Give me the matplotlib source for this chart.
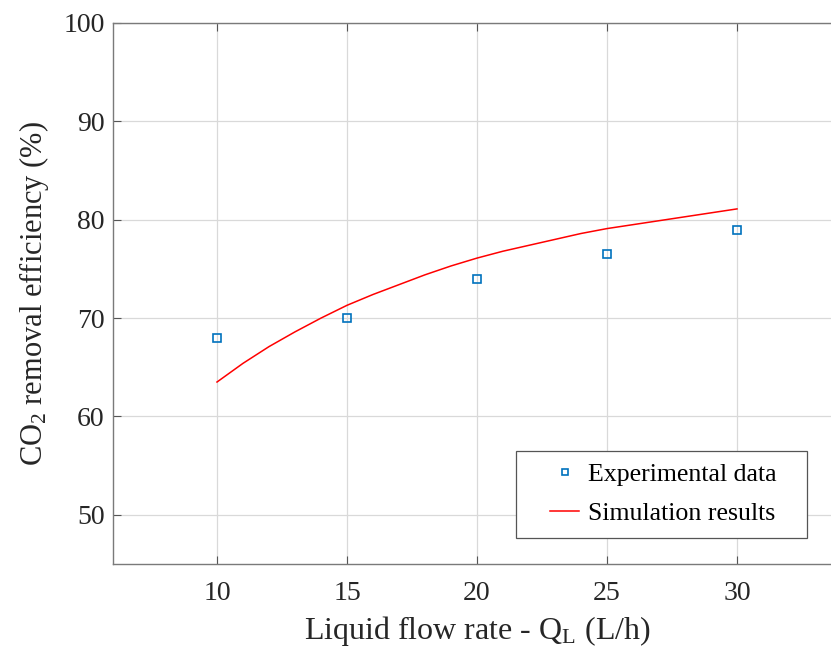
import numpy as np
import matplotlib.pyplot as plt
from matplotlib.legend_handler import HandlerLine2D

plt.rcParams['font.family'] = 'Liberation Serif'
plt.rcParams['mathtext.fontset'] = 'custom'
plt.rcParams['mathtext.rm'] = 'Liberation Serif'
plt.rcParams['mathtext.it'] = 'Liberation Serif'

# experimental points
expFlow = [10, 15, 20, 25, 30]
expEff = [68.0, 70.0, 74.0, 76.5, 79.0]

# simulation curve at each L/h
simFlow = list(range(10, 31))
simEff = [63.5, 65.4, 67.1, 68.6, 70.0, 71.3, 72.4, 73.4, 74.4, 75.3, 76.1,
          76.8, 77.4, 78.0, 78.6, 79.1, 79.5, 79.9, 80.3, 80.7, 81.1]

xTicks = [10, 15, 20, 25, 30]
yTicks = [50, 60, 70, 80, 90, 100]


class RightHandler(HandlerLine2D):
    # MATLAB style: short handle sitting next to the text
    def get_xdata(self, legend, xdescent, ydescent, width, height, fontsize):
        x0 = -xdescent + 0.42 * width
        x1 = -xdescent + width
        return np.array([x0, x1]), np.array([(x0 + x1) / 2])


W, H = 831, 647
fig = plt.figure(figsize=(W / 100, H / 100), dpi=100)
# right edge of the box falls outside the picture
ax = fig.add_axes([113 / W, 1 - 564 / H, (841 - 113) / W, (564 - 23) / H])

ax.plot(expFlow, expEff, linestyle='', marker='s', markersize=6,
        markerfacecolor='none', markeredgecolor='#0072BD', markeredgewidth=1.2,
        label='Experimental data')
ax.plot(simFlow, simEff, color='#FF0000', linewidth=1.1, label='Simulation results')

ax.set_xlim(6, 34)
ax.set_ylim(45, 100)
ax.set_xticks(xTicks)
ax.set_yticks(yTicks)
ax.grid(True, color='#d9d9d9', linewidth=0.9)
ax.set_axisbelow(True)
ax.tick_params(direction='in', top=True, right=True, length=6, color='#555555',
               labelsize=20, labelcolor='#262626')
ax.tick_params(axis='x', pad=12)
ax.tick_params(axis='y', pad=6)
for s in ax.spines.values():
    s.set_color('#7a7a7a')
    s.set_linewidth(1.0)

ax.set_xlabel('Liquid flow rate - Q$_L$ (L/h)', fontsize=23, color='#262626', labelpad=6)
ax.set_ylabel('CO$_2$ removal efficiency (%)', fontsize=22, color='#262626', labelpad=9)

leg = ax.legend(loc='lower left', mode='expand',
                bbox_to_anchor=(516 / W, 1 - 538 / H, 291 / W, 89 / H),
                bbox_transform=fig.transFigure, borderaxespad=0, fontsize=18.6,
                fancybox=False, framealpha=1, edgecolor='#555555', borderpad=0.5,
                labelspacing=0.6, handlelength=1.95, handletextpad=0.34,
                markerscale=0.7, handler_map={plt.Line2D: RightHandler()})
leg.get_frame().set_linewidth(0.9)

fig.savefig('out.png', dpi=100)
